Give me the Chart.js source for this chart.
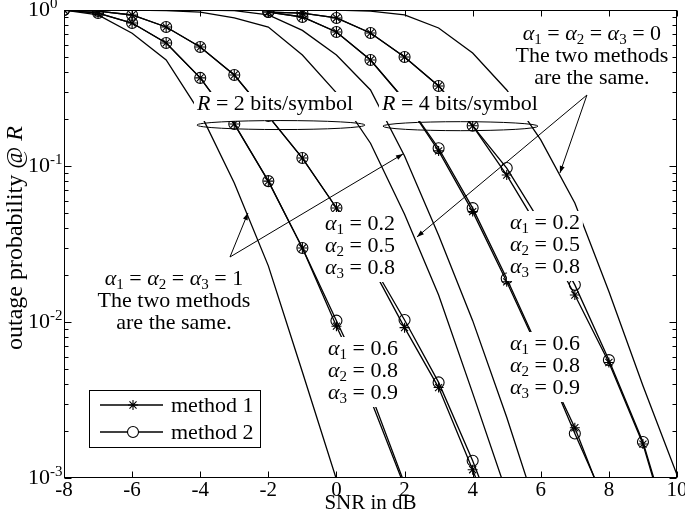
<!DOCTYPE html>
<html>
<head>
<meta charset="utf-8">
<script src="https://cdn.jsdelivr.net/npm/chart.js@4.4.0/dist/chart.umd.min.js"></script>
<style>
  html, body { margin: 0; padding: 0; background: #fff; }
</style>
</head>
<body>
<canvas id="outageChart" width="685" height="517"></canvas>
<script>
// SNR grid (dB), one column per value below
const snr = [-8, -7, -6, -5, -4, -3, -2, -1, 0, 1, 2, 3, 4, 5, 6, 7, 8, 9, 10];
const xTicks = [-8, -6, -4, -2, 0, 2, 4, 6, 8, 10];
const yDecades = [0.001, 0.01, 0.1, 1];
const yDecadeBase = ["10", "10", "10", "10"];
const yDecadeExp = ["-3", "-2", "-1", "0"];

// R = 2 bits/symbol
const r2Alpha1 = [1, 0.93, 0.71, 0.478, 0.219, 0.0778, 0.0229, 0.00478, 0.00098, null, null, null, null, null, null, null, null, null, null];
const r2Alpha0 = [1, 1, 1, 0.99, 0.97, 0.89, 0.778, 0.515, 0.294, 0.140, 0.049, 0.0149, 0.0035, 0.0008, null, null, null, null, null];
const r2SetAm1 = [1, 0.985, 0.929, 0.778, 0.579, 0.383, 0.209, 0.1125, 0.0538, 0.0235, 0.0092, 0.0038, 0.00113, 0.0003, null, null, null, null, null];
const r2SetAm2 = [1, 0.985, 0.929, 0.778, 0.579, 0.383, 0.209, 0.1125, 0.0538, 0.0245, 0.0103, 0.0041, 0.00129, 0.00035, null, null, null, null, null];
const r2SetBm1 = [1, 0.956, 0.825, 0.615, 0.367, 0.186, 0.080, 0.0298, 0.0094, 0.0032, 0.00088, null, null, null, null, null, null, null, null];
const r2SetBm2 = [1, 0.956, 0.825, 0.615, 0.367, 0.186, 0.080, 0.0298, 0.0102, 0.0035, 0.00092, null, null, null, null, null, null, null, null];

// R = 4 bits/symbol
const r4Alpha1 = [1, 1, 1, 1, 1, 0.99, 0.93, 0.74, 0.515, 0.307, 0.116, 0.036, 0.0102, 0.00245, 0.00052, null, null, null, null];
const r4Alpha0 = [1, 1, 1, 1, 1, 1, 1, 1, 1, 0.985, 0.93, 0.767, 0.53, 0.307, 0.147, 0.058, 0.0157, 0.0039, 0.00105];
const r4SetAm1 = [null, null, null, null, null, null, 0.97, 0.956, 0.889, 0.712, 0.50, 0.326, 0.181, 0.0875, 0.038, 0.0149, 0.0055, 0.00165, 0.0003];
const r4SetAm2 = [null, null, null, null, null, null, 0.97, 0.956, 0.889, 0.712, 0.50, 0.326, 0.181, 0.097, 0.043, 0.0173, 0.0057, 0.0017, 0.00032];
const r4SetBm1 = [null, null, null, null, null, null, 0.97, 0.902, 0.723, 0.478, 0.265, 0.125, 0.051, 0.0181, 0.0061, 0.0021, 0.00058, null, null];
const r4SetBm2 = [null, null, null, null, null, null, 0.97, 0.902, 0.723, 0.478, 0.265, 0.130, 0.0537, 0.019, 0.0063, 0.00193, 0.00062, null, null];

const serif = "'Liberation Serif', 'Times New Roman', serif";

function pts(values) {
  return snr.map((x, i) => ({ x: x, y: values[i] })).filter(p => p.y !== null);
}

function plain(values) {
  return { data: pts(values), borderColor: "#000", borderWidth: 1.3, pointRadius: 0, tension: 0, fill: false };
}
function method1(values) {
  return { data: pts(values), borderColor: "#000", borderWidth: 1.3, tension: 0, fill: false,
    pointStyle: "star", pointRadius: 5, pointBorderColor: "#000", pointBorderWidth: 1.1, pointBackgroundColor: "#000" };
}
function method2(values) {
  return { data: pts(values), borderColor: "#000", borderWidth: 1.3, tension: 0, fill: false,
    pointStyle: "circle", pointRadius: 5.5, pointBorderColor: "#000", pointBorderWidth: 1.1, pointBackgroundColor: "rgba(0,0,0,0)" };
}

// rich text pieces
const it = t => ({ t: t, it: true });
const tx = t => ({ t: t });
const sub = t => ({ t: t, sub: true });
const alphaEq = v => [it("\u03B1"), sub("1"), tx(" = "), it("\u03B1"), sub("2"), tx(" = "), it("\u03B1"), sub("3"), tx(" = " + v)];
const alphaSet = (a, b, c) => [
  [it("\u03B1"), sub("1"), tx(" = " + a)],
  [it("\u03B1"), sub("2"), tx(" = " + b)],
  [it("\u03B1"), sub("3"), tx(" = " + c)]
];

// text notes: anchor in data units (x in dB, baseline of first line as probability)
const notes = [
  { x: -1.805, y: 0.2286, align: "center", padBottom: 11, lines: [[it("R"), tx(" = 2 bits/symbol")]] },
  { x: 3.627, y: 0.2286, align: "center", padBottom: 11, lines: [[it("R"), tx(" = 4 bits/symbol")]] },
  { x: 7.50, y: 0.642, align: "center", box: false, lines: [alphaEq("0"), [tx("The two methods")], [tx("are the same.")]] },
  { x: -4.77, y: 0.01727, align: "center", box: false, lines: [alphaEq("1"), [tx("The two methods")], [tx("are the same.")]] },
  { x: -0.337, y: 0.03888, align: "left", lines: alphaSet("0.2", "0.5", "0.8") },
  { x: 5.094, y: 0.03947, align: "left", lines: alphaSet("0.2", "0.5", "0.8") },
  { x: -0.249, y: 0.006144, align: "left", lines: alphaSet("0.6", "0.8", "0.9") },
  { x: 5.094, y: 0.006614, align: "left", lines: alphaSet("0.6", "0.8", "0.9") }
];
const ellipses = [
  { x: -1.629, y: 0.183, rx: 2.466 },
  { x: 3.641, y: 0.180, rx: 2.275 }
];
const arrows = [
  { from: [-3.126, 0.0261], to: [-2.598, 0.050] },
  { from: [-3.126, 0.0261], to: [1.953, 0.1194] },
  { from: [7.355, 0.285], to: [6.563, 0.0902] },
  { from: [7.355, 0.285], to: [2.364, 0.0351] }
];

const noteSize = 22;
const lineGap = 22;

function fontOf(p, size) {
  const s = p.sub ? Math.round(size * 0.66) : size;
  return (p.it ? "italic " : "") + s + "px " + serif;
}
function richWidth(ctx, parts, size) {
  let w = 0;
  parts.forEach(p => { ctx.font = fontOf(p, size); w += ctx.measureText(p.t).width; });
  return w;
}
function drawRich(ctx, parts, x, y, size) {
  let cx = x;
  parts.forEach(p => {
    ctx.font = fontOf(p, size);
    ctx.fillText(p.t, cx, y + (p.sub ? size * 0.16 : 0));
    cx += ctx.measureText(p.t).width;
  });
}

const annotate = {
  id: "annotate",
  afterDatasetsDraw(chart) {
    const ctx = chart.ctx;
    const xs = chart.scales.x, ys = chart.scales.y;
    const P = (x, y) => [xs.getPixelForValue(x), ys.getPixelForValue(y)];
    ctx.save();
    ctx.fillStyle = "#000";
    ctx.textBaseline = "alphabetic";
    ctx.textAlign = "left";

    notes.forEach(n => {
      const [ax, ay] = P(n.x, n.y);
      const widths = n.lines.map(l => richWidth(ctx, l, noteSize));
      const maxW = Math.max.apply(null, widths);
      const left = n.align === "center" ? ax - maxW / 2 : ax;
      const top = ay - 18;
      const bottom = ay + (n.lines.length - 1) * lineGap + (n.padBottom || 8);
      if (n.box !== false) {
        ctx.fillStyle = "#fff";
        ctx.fillRect(left - 3, top, maxW + 6, bottom - top);
        ctx.fillStyle = "#000";
      }
      n.lines.forEach((l, i) => {
        const lx = n.align === "center" ? ax - widths[i] / 2 : ax;
        drawRich(ctx, l, lx, ay + i * lineGap, noteSize);
      });
    });

    ctx.strokeStyle = "#000";
    ctx.lineWidth = 1;
    ellipses.forEach(e => {
      const [cx, cy] = P(e.x, e.y);
      const rx = xs.getPixelForValue(e.x + e.rx) - cx;
      ctx.beginPath();
      ctx.ellipse(cx, cy, rx, 4.5, 0, 0, Math.PI * 2);
      ctx.stroke();
    });

    arrows.forEach(a => {
      const [x0, y0] = P(a.from[0], a.from[1]);
      const [x1, y1] = P(a.to[0], a.to[1]);
      const ang = Math.atan2(y1 - y0, x1 - x0);
      ctx.beginPath();
      ctx.moveTo(x0, y0);
      ctx.lineTo(x1, y1);
      ctx.stroke();
      ctx.beginPath();
      ctx.moveTo(x1, y1);
      ctx.lineTo(x1 - 7 * Math.cos(ang) + 2.5 * Math.sin(ang), y1 - 7 * Math.sin(ang) - 2.5 * Math.cos(ang));
      ctx.lineTo(x1 - 7 * Math.cos(ang) - 2.5 * Math.sin(ang), y1 - 7 * Math.sin(ang) + 2.5 * Math.cos(ang));
      ctx.closePath();
      ctx.fill();
    });

    // legend box
    const area = chart.chartArea;
    const lx = area.left + 25, ly = area.bottom - 88;
    ctx.fillStyle = "#fff";
    ctx.fillRect(lx, ly, 171, 57);
    ctx.strokeRect(lx + 0.5, ly + 0.5, 171, 57);
    ctx.fillStyle = "#000";
    [["method 1", "star"], ["method 2", "circle"]].forEach((row, i) => {
      const ry = ly + 15 + i * 27;
      ctx.lineWidth = 1.3;
      ctx.beginPath();
      ctx.moveTo(lx + 11, ry);
      ctx.lineTo(lx + 74, ry);
      ctx.stroke();
      ctx.lineWidth = 1.1;
      if (row[1] === "star") {
        Chart.helpers.drawPoint(ctx, { pointStyle: "star", radius: 5, borderWidth: 1.1 }, lx + 44, ry);
      } else {
        ctx.fillStyle = "#fff";
        ctx.beginPath();
        ctx.arc(lx + 44, ry, 5.5, 0, Math.PI * 2);
        ctx.fill();
        ctx.stroke();
        ctx.fillStyle = "#000";
      }
      ctx.font = noteSize + "px " + serif;
      ctx.fillText(row[0], lx + 82, ry + 7);
    });
    ctx.restore();
  },
  afterDraw(chart) {
    const ctx = chart.ctx;
    const a = chart.chartArea;
    const xs = chart.scales.x, ys = chart.scales.y;
    ctx.save();
    ctx.strokeStyle = "#000";
    ctx.lineWidth = 1;
    const L = Math.round(a.left) + 0.5, R = Math.round(a.right) - 0.5;
    const T = Math.round(a.top) + 0.5, B = Math.round(a.bottom) - 0.5;
    ctx.strokeRect(L, T, R - L, B - T);
    ctx.beginPath();
    xs.ticks.forEach(t => {
      const px = Math.round(xs.getPixelForValue(t.value)) + 0.5;
      ctx.moveTo(px, B); ctx.lineTo(px, B - 6);
      ctx.moveTo(px, T); ctx.lineTo(px, T + 6);
    });
    ys.ticks.forEach(t => {
      const major = yDecades.some(d => Math.abs(d - t.value) / d < 1e-6);
      const len = major ? 7 : 4;
      const py = Math.round(ys.getPixelForValue(t.value)) + 0.5;
      ctx.moveTo(L, py); ctx.lineTo(L + len, py);
      ctx.moveTo(R, py); ctx.lineTo(R - len, py);
    });
    ctx.stroke();

    // exponents of the decade labels
    ctx.fillStyle = "#000";
    ctx.font = "15px " + serif;
    ctx.textAlign = "left";
    ctx.textBaseline = "middle";
    yDecades.forEach((d, i) => {
      ctx.fillText(yDecadeExp[i], a.left - 14, ys.getPixelForValue(d) - 6);
    });

    // y axis title with italic R
    const parts = [tx("outage probability @ "), it("R")];
    const w = richWidth(ctx, parts, 24);
    ctx.translate(22, (a.top + a.bottom) / 2 - 6);
    ctx.rotate(-Math.PI / 2);
    ctx.textBaseline = "alphabetic";
    drawRich(ctx, parts, -w / 2, 0, 24);
    ctx.restore();
  }
};

const yTickValues = [];
yDecades.forEach(d => {
  if (d === 1) { yTickValues.push(1); return; }
  for (let m = 1; m <= 9; m++) yTickValues.push(Number((m * d).toPrecision(3)));
});

new Chart(document.getElementById("outageChart"), {
  type: "line",
  data: {
    datasets: [
      plain(r2Alpha1), plain(r2Alpha0),
      method1(r2SetAm1), method2(r2SetAm2),
      method1(r2SetBm1), method2(r2SetBm2),
      plain(r4Alpha1), plain(r4Alpha0),
      method1(r4SetAm1), method2(r4SetAm2),
      method1(r4SetBm1), method2(r4SetBm2)
    ]
  },
  options: {
    responsive: false,
    animation: false,
    layout: { padding: { left: 0, right: 8, top: 10, bottom: 0 } },
    plugins: { legend: { display: false }, tooltip: { enabled: false } },
    scales: {
      x: {
        type: "linear",
        min: -8,
        max: 10,
        afterBuildTicks: s => { s.ticks = xTicks.map(v => ({ value: v })); },
        afterFit: s => { s.height = 39; s.paddingLeft = 0; s.paddingRight = 0; },
        ticks: { color: "#000", font: { family: serif, size: 21 }, padding: 0, maxRotation: 0, autoSkip: false, callback: v => String(v) },
        grid: { display: false, drawTicks: false },
        border: { display: false },
        title: { display: true, text: "SNR in dB", color: "#000", font: { family: serif, size: 21, lineHeight: 1.15 }, padding: { top: 0, bottom: 1 } }
      },
      y: {
        type: "logarithmic",
        min: 0.001,
        max: 1,
        afterBuildTicks: s => { s.ticks = yTickValues.map(v => ({ value: v })); },
        afterFit: s => { s.width = 64; s.paddingTop = 0; s.paddingBottom = 0; },
        ticks: {
          color: "#000", font: { family: serif, size: 22 }, padding: 14, autoSkip: false,
          callback: v => {
            const i = yDecades.findIndex(d => Math.abs(d - v) / d < 1e-6);
            return i >= 0 ? yDecadeBase[i] : "";
          }
        },
        grid: { display: false, drawTicks: false },
        border: { display: false }
      }
    }
  },
  plugins: [annotate]
});
</script>
</body>
</html>
